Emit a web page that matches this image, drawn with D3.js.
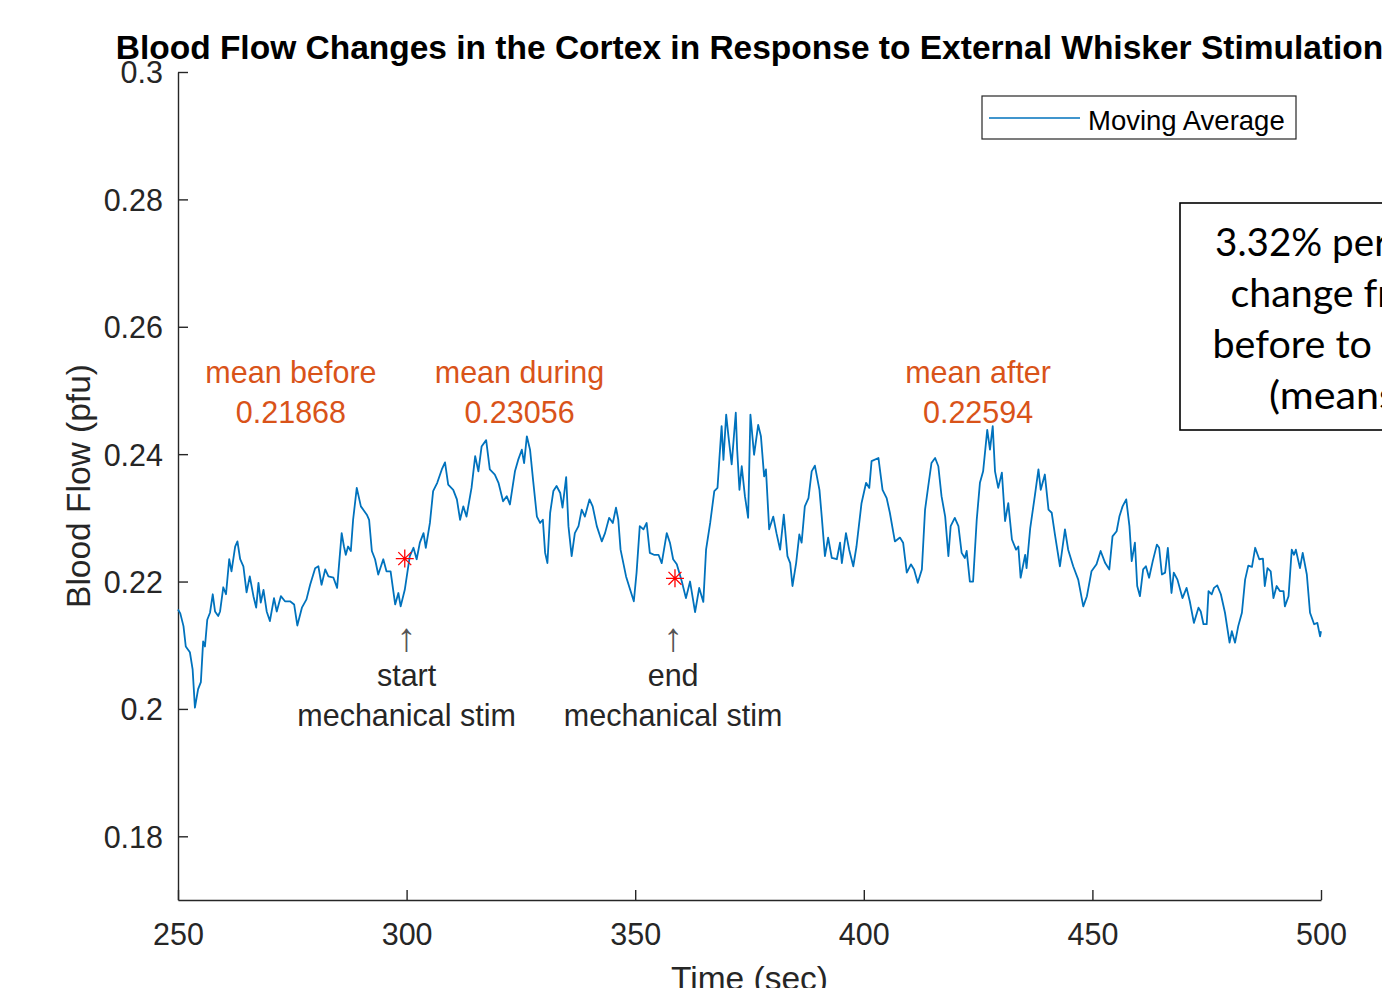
<!DOCTYPE html>
<html>
<head>
  <meta charset="utf-8">
  <title>Blood Flow Changes</title>
  <style>
    body { margin: 0; background: #fff; }
    svg { display: block; }
  </style>
</head>
<body>
  <svg id="chart"></svg>

  <script src="https://cdnjs.cloudflare.com/ajax/libs/d3/7.8.5/d3.min.js"></script>
  <script>
    /** Moving average of blood flow, [time (sec), flow (pfu)] */
    const movingAvg = [
      [250.0,0.2156],[250.5,0.2150],[251.2,0.2130],[251.7,0.2098],[252.6,0.2089],[253.2,0.2062],[253.7,0.2002],[254.4,0.2031],[255.0,0.2042],[255.5,0.2106],
      [255.9,0.2098],[256.4,0.2140],[257.0,0.2151],[257.6,0.2180],[258.1,0.2153],[258.8,0.2146],[259.2,0.2153],[259.9,0.2191],[260.5,0.2180],[261.2,0.2235],
      [261.7,0.2216],[262.5,0.2255],[263.0,0.2263],[263.6,0.2235],[264.3,0.2224],[265.0,0.2183],[265.7,0.2208],[266.5,0.2177],[267.1,0.2159],[267.6,0.2198],
      [268.1,0.2167],[268.7,0.2187],[269.4,0.2153],[270.1,0.2138],[271.0,0.2174],[271.6,0.2153],[272.5,0.2177],[273.4,0.2169],[274.5,0.2169],[275.4,0.2164],
      [276.1,0.2131],[277.1,0.2159],[278.1,0.2172],[278.9,0.2195],[280.0,0.2221],[280.7,0.2224],[281.4,0.2195],[282.2,0.2219],[282.9,0.2208],[284.0,0.2206],
      [284.8,0.2190],[285.8,0.2276],[286.3,0.2255],[286.7,0.2242],[287.2,0.2255],[287.8,0.2248],[288.3,0.2297],[289.1,0.2347],[290.0,0.2318],[291.3,0.2305],
      [291.8,0.2297],[292.4,0.2248],[293.1,0.2235],[293.8,0.2211],[294.9,0.2235],[295.6,0.2216],[296.5,0.2216],[297.5,0.2164],[298.2,0.2182],[298.7,0.2161],
      [299.6,0.2187],[300.7,0.2240],[301.5,0.2253],[302.2,0.2235],[302.9,0.2261],[303.7,0.2276],[304.2,0.2253],[305.1,0.2292],[305.8,0.2342],[306.7,0.2355],
      [307.7,0.2376],[308.4,0.2387],[309.1,0.2352],[310.2,0.2344],[311.0,0.2329],[311.7,0.2297],[312.4,0.2318],[313.1,0.2302],[314.2,0.2347],[315.0,0.2397],
      [315.7,0.2373],[316.4,0.2412],[317.4,0.2422],[318.2,0.2376],[319.3,0.2368],[320.1,0.2355],[321.1,0.2326],[321.9,0.2334],[322.6,0.2321],[323.7,0.2373],
      [324.4,0.2391],[325.2,0.2407],[325.7,0.2386],[326.3,0.2428],[327.0,0.2407],[327.7,0.2357],[328.5,0.2302],[329.2,0.2292],[329.8,0.2297],[330.3,0.2245],
      [330.8,0.2229],[331.4,0.2308],[332.1,0.2342],[332.8,0.2350],[333.6,0.2339],[334.1,0.2316],[334.9,0.2364],[335.4,0.2287],[336.1,0.2240],[336.8,0.2276],
      [337.6,0.2287],[338.3,0.2313],[339.0,0.2302],[340.0,0.2329],[340.7,0.2318],[341.6,0.2287],[342.7,0.2263],[343.4,0.2276],[344.3,0.2300],[345.1,0.2292],
      [345.8,0.2316],[346.3,0.2297],[346.8,0.2250],[348.0,0.2208],[348.9,0.2187],[349.7,0.2169],[350.3,0.2214],[351.0,0.2287],[351.8,0.2282],[352.5,0.2292],
      [353.2,0.2245],[354.1,0.2242],[355.1,0.2242],[355.8,0.2229],[356.9,0.2276],[357.6,0.2261],[358.3,0.2235],[359.1,0.2227],[360.2,0.2200],[361.1,0.2174],
      [362.0,0.2200],[363.1,0.2152],[364.0,0.2190],[364.9,0.2168],[365.5,0.2250],[366.4,0.2292],[367.3,0.2342],[368.0,0.2347],[368.4,0.2391],[368.9,0.2444],
      [369.3,0.2391],[369.9,0.2462],[370.4,0.2428],[371.1,0.2384],[372.0,0.2465],[372.3,0.2407],[372.8,0.2344],[373.3,0.2381],[374.0,0.2334],[374.7,0.2300],
      [375.2,0.2462],[376.0,0.2399],[376.9,0.2446],[377.5,0.2428],[378.2,0.2365],[378.6,0.2376],[379.3,0.2282],[380.2,0.2302],[380.9,0.2276],[381.7,0.2250],
      [382.5,0.2305],[383.3,0.2240],[383.9,0.2229],[384.4,0.2193],[385.2,0.2229],[385.9,0.2274],[386.4,0.2261],[387.1,0.2318],[387.9,0.2331],[388.6,0.2373],
      [389.3,0.2382],[390.3,0.2344],[390.8,0.2302],[391.5,0.2240],[392.2,0.2269],[393.0,0.2237],[394.1,0.2235],[394.8,0.2261],[395.2,0.2229],[396.1,0.2276],
      [396.8,0.2250],[397.7,0.2224],[398.4,0.2255],[399.5,0.2323],[400.5,0.2355],[401.2,0.2347],[401.7,0.2389],[403.2,0.2394],[404.1,0.2344],[405.0,0.2331],
      [405.7,0.2308],[406.8,0.2263],[407.9,0.2269],[408.6,0.2261],[409.4,0.2214],[410.3,0.2227],[411.0,0.2219],[411.8,0.2198],[412.7,0.2219],[413.4,0.2313],
      [414.1,0.2350],[414.8,0.2386],[415.6,0.2394],[416.3,0.2381],[417.0,0.2334],[417.8,0.2302],[418.5,0.2240],[419.0,0.2287],[419.9,0.2300],[420.7,0.2287],
      [421.4,0.2245],[422.1,0.2237],[422.5,0.2248],[423.2,0.2200],[423.9,0.2200],[424.7,0.2297],[425.4,0.2355],[426.1,0.2373],[427.0,0.2438],[427.6,0.2407],
      [428.2,0.2444],[428.7,0.2373],[429.4,0.2347],[430.2,0.2371],[430.9,0.2295],[431.6,0.2323],[432.4,0.2266],[433.3,0.2250],[433.8,0.2255],[434.3,0.2206],
      [435.3,0.2242],[435.6,0.2221],[436.4,0.2284],[437.4,0.2334],[438.2,0.2376],[438.7,0.2344],[439.6,0.2368],[440.4,0.2313],[441.1,0.2308],[441.8,0.2274],
      [442.9,0.2224],[444.0,0.2282],[444.7,0.2250],[445.8,0.2224],[446.9,0.2203],[448.0,0.2161],[448.8,0.2177],[449.8,0.2216],[450.9,0.2227],[451.8,0.2248],
      [452.8,0.2229],[453.7,0.2219],[454.4,0.2271],[455.3,0.2279],[455.9,0.2302],[456.6,0.2318],[457.4,0.2329],[458.1,0.2287],[458.6,0.2232],[459.3,0.2261],
      [459.8,0.2193],[460.4,0.2177],[461.1,0.2219],[461.7,0.2224],[462.4,0.2206],[463.2,0.2232],[464.1,0.2258],[464.6,0.2253],[465.2,0.2211],[465.9,0.2214],
      [466.5,0.2253],[467.3,0.2182],[467.8,0.2214],[468.6,0.2203],[469.7,0.2174],[470.6,0.2190],[471.3,0.2169],[472.2,0.2135],[473.2,0.2159],[473.7,0.2153],
      [474.3,0.2133],[475.0,0.2133],[475.4,0.2185],[476.1,0.2180],[476.6,0.2190],[477.3,0.2194],[478.1,0.2180],[479.0,0.2151],[480.0,0.2104],[480.5,0.2122],
      [481.2,0.2104],[481.9,0.2130],[482.7,0.2151],[483.4,0.2203],[484.1,0.2225],[484.9,0.2223],[485.6,0.2253],[486.5,0.2235],[487.3,0.2236],[487.7,0.2193],
      [488.3,0.2221],[489.0,0.2216],[489.6,0.2174],[490.3,0.2193],[491.0,0.2185],[491.8,0.2185],[492.1,0.2161],[492.9,0.2177],[493.6,0.2250],[494.1,0.2242],
      [494.5,0.2250],[495.4,0.2221],[496.0,0.2245],[496.9,0.2211],[497.6,0.2151],[498.5,0.2133],[499.2,0.2135],[499.8,0.2114],[500.0,0.2122]
    ];

    /** Start / end of stimulation markers (red stars) */
    const stimPoints = [[299.6, 0.2236], [358.7, 0.2205]];

    /** Orange mean annotations: [label, value text, centre time, label y] */
    const meanNotes = [
      ["mean before", "0.21868", 274.7, 0.2512],
      ["mean during", "0.23056", 324.7, 0.2512],
      ["mean after", "0.22594", 425.0, 0.2512]
    ];

    /** Black stimulation annotations: [centre time, lines] */
    const stimNotes = [
      [300.0, ["\u2191", "start", "mechanical stim"]],
      [358.3, ["\u2191", "end", "mechanical stim"]]
    ];

    /** Axis ticks and labels */
    const xTicks = [250, 300, 350, 400, 450, 500];
    const xTickLabels = ["250", "300", "350", "400", "450", "500"];
    const yTicks = [0.18, 0.2, 0.22, 0.24, 0.26, 0.28, 0.3];
    const yTickLabels = ["0.18", "0.2", "0.22", "0.24", "0.26", "0.28", "0.3"];

    /** Text box lines */
    const boxLines = ["3.32% percent", "change from", "before to after", "(means)"];
    const boxLineWidths = [246, 215, 251, 138];

    const width = 1382, height = 988;
    const font = "'Liberation Sans', Arial, Helvetica, sans-serif";
    const axisColor = "#262626";

    const svg = d3.select("#chart")
      .attr("width", width)
      .attr("height", height)
      .attr("viewBox", [0, 0, width, height]);

    svg.append("rect").attr("width", width).attr("height", height).attr("fill", "#fff");

    /** Scales */
    const x = d3.scaleLinear().domain([250, 500]).range([178, 1321]);
    const y = d3.scaleLinear().domain([0.17, 0.3]).range([900, 72]);

    /** Axes */
    const gx = svg.append("g")
      .attr("transform", `translate(0,${y(0.17)})`)
      .call(d3.axisBottom(x)
        .tickValues(xTicks)
        .tickFormat((d, i) => xTickLabels[i])
        .tickSizeInner(-10)
        .tickSizeOuter(0)
        .tickPadding(23));

    const gy = svg.append("g")
      .attr("transform", `translate(${x(250)},0)`)
      .call(d3.axisLeft(y)
        .tickValues(yTicks)
        .tickFormat((d, i) => yTickLabels[i])
        .tickSizeInner(-10)
        .tickSizeOuter(0)
        .tickPadding(15));

    [gx, gy].forEach(g => {
      g.attr("font-family", font).attr("font-size", 30.5);
      g.select(".domain").attr("stroke", axisColor).attr("stroke-width", 1.4);
      g.selectAll(".tick line").attr("stroke", axisColor).attr("stroke-width", 1.4);
      g.selectAll(".tick text").attr("fill", axisColor);
    });
    gy.selectAll(".tick text").attr("dy", "0.36em");

    /** Axis labels and title */
    svg.append("text")
      .attr("x", (x(250) + x(500)) / 2)
      .attr("y", 990)
      .attr("text-anchor", "middle")
      .attr("font-family", font)
      .attr("font-size", 33.5)
      .attr("fill", axisColor)
      .text("Time (sec)");

    svg.append("text")
      .attr("transform", `translate(90,${(y(0.17) + y(0.3)) / 2}) rotate(-90)`)
      .attr("text-anchor", "middle")
      .attr("font-family", font)
      .attr("font-size", 33.5)
      .attr("fill", axisColor)
      .text("Blood Flow (pfu)");

    svg.append("text")
      .attr("x", (x(250) + x(500)) / 2)
      .attr("y", 59)
      .attr("text-anchor", "middle")
      .attr("font-family", font)
      .attr("font-size", 33.5)
      .attr("font-weight", "bold")
      .attr("fill", "#000")
      .text("Blood Flow Changes in the Cortex in Response to External Whisker Stimulation");

    /** The moving average line */
    const line = d3.line()
      .x(d => x(d[0]))
      .y(d => y(d[1]));

    svg.append("path")
      .datum(movingAvg)
      .attr("d", line)
      .attr("fill", "none")
      .attr("stroke", "#0072BD")
      .attr("stroke-width", 1.8)
      .attr("stroke-linejoin", "round");

    /** Red asterisk markers */
    const r = 9;
    const star = `M${-r},0H${r}M0,${-r}V${r}M${-r * 0.72},${-r * 0.72}L${r * 0.72},${r * 0.72}M${-r * 0.72},${r * 0.72}L${r * 0.72},${-r * 0.72}`;
    svg.append("g").selectAll("path")
      .data(stimPoints)
      .join("path")
      .attr("transform", d => `translate(${x(d[0])},${y(d[1])})`)
      .attr("d", star)
      .attr("fill", "none")
      .attr("stroke", "#FF0000")
      .attr("stroke-width", 1.3);

    /** Mean annotations */
    const means = svg.append("g")
      .attr("font-family", font)
      .attr("font-size", 30.5)
      .attr("fill", "#D95319")
      .attr("text-anchor", "middle");
    means.selectAll("text.lbl")
      .data(meanNotes)
      .join("text")
      .attr("class", "lbl")
      .attr("x", d => x(d[2]))
      .attr("y", d => y(d[3]))
      .text(d => d[0]);
    means.selectAll("text.val")
      .data(meanNotes)
      .join("text")
      .attr("class", "val")
      .attr("x", d => x(d[2]))
      .attr("y", d => y(d[3]) + 40)
      .text(d => d[1]);

    /** Stimulation annotations */
    const stims = svg.append("g")
      .attr("font-family", font)
      .attr("font-size", 30.5)
      .attr("fill", axisColor)
      .attr("text-anchor", "middle");
    stimNotes.forEach(([t, lines]) => {
      lines.forEach((s, i) => {
        stims.append("text")
          .attr("x", x(t))
          .attr("y", [651, 686, 726][i])
          .attr("font-size", i === 0 ? 40 : 30.5)
          .attr("fill", i === 0 ? "#555" : axisColor)
          .text(s);
      });
    });

    /** Legend */
    const legend = svg.append("g");
    legend.append("rect")
      .attr("x", 982).attr("y", 96)
      .attr("width", 314).attr("height", 43)
      .attr("fill", "#fff")
      .attr("stroke", axisColor)
      .attr("stroke-width", 1.2);
    legend.append("line")
      .attr("x1", 989).attr("x2", 1080)
      .attr("y1", 118).attr("y2", 118)
      .attr("stroke", "#0072BD")
      .attr("stroke-width", 1.7);
    legend.append("text")
      .attr("x", 1088).attr("y", 130)
      .attr("font-family", font)
      .attr("font-size", 27.5)
      .attr("fill", "#000")
      .text("Moving Average");

    /** Percent change text box */
    const box = svg.append("g");
    box.append("rect")
      .attr("x", 1180).attr("y", 203)
      .attr("width", 400).attr("height", 227)
      .attr("fill", "#fff")
      .attr("stroke", "#000")
      .attr("stroke-width", 1.6);
    box.selectAll("text")
      .data(boxLines)
      .join("text")
      .attr("x", 1338)
      .attr("y", (d, i) => 256 + i * 51)
      .attr("text-anchor", "middle")
      .attr("font-family", "Lato, 'Open Sans', sans-serif")
      .attr("font-size", 38)
      .attr("fill", "#000")
      .attr("textLength", (d, i) => boxLineWidths[i])
      .attr("lengthAdjust", "spacingAndGlyphs")
      .text(d => d);
  </script>
</body>
</html>
